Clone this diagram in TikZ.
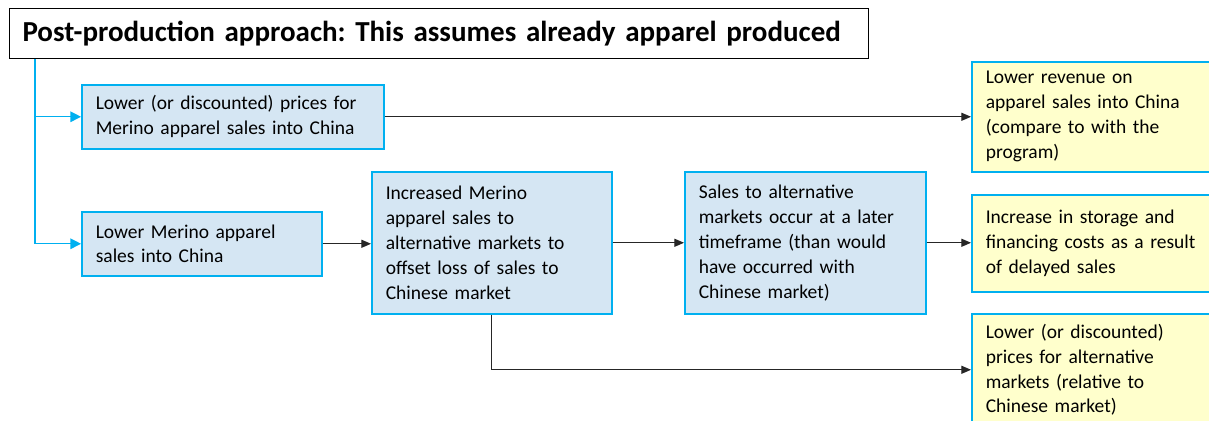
\documentclass[tikz,border=0pt]{standalone}
\usepackage{fontspec}
\setmainfont{Carlito}
\usepackage{tikz}
\usetikzlibrary{arrows.meta}

\definecolor{boxblue}{HTML}{D5E6F3}
\definecolor{boxyellow}{HTML}{FFFFCC}
\definecolor{edgecyan}{HTML}{00B0F0}

\tikzset{
	effect/.style={draw=edgecyan, line width=0.9pt, anchor=north west, inner xsep=0.28cm,
		align=left, font=\fontsize{11.1}{14.2}\selectfont},
	cause/.style={effect, fill=boxblue},
	result/.style={effect, fill=boxyellow},
	link/.style={-{Triangle[length=5.5pt,width=4.6pt]}, line width=0.55pt, black!85},
	feed/.style={-{Triangle[length=6pt,width=6pt]}, draw=edgecyan, line width=0.7pt}
}

\frenchspacing
\begin{document}
\begin{tikzpicture}[x=0.02cm,y=-0.02cm]
	
	\useasboundingbox (0,0) rectangle (1209,421);
	
	\node[draw, line width=0.6pt, anchor=north west, inner xsep=0.26cm, text width=16.66cm,
		minimum height=1cm, align=left, font=\fontsize{16.5}{19}\selectfont\bfseries] (title) at (9,8)
		{\mbox{Post-production approach: This assumes already apparel produced}};
	
	\node[cause, text width=5.48cm, minimum height=1.28cm] (lowprice) at (81,84)
		{Lower (or discounted) prices for\\Merino apparel sales into China};
	\node[cause, text width=4.24cm, minimum height=1.28cm] (lowsales) at (81,211)
		{Lower Merino apparel\\sales into China};
	\node[cause, text width=4.24cm, minimum height=2.84cm] (increase) at (371,171)
		{Increased Merino\\apparel sales to\\alternative markets to\\offset loss of sales to\\Chinese market};
	\node[cause, text width=4.26cm, minimum height=2.84cm] (later) at (684,171)
		{Sales to alternative\\markets occur at a later\\timeframe (than would\\have occurred with\\Chinese market)};
	
	\node[result, text width=4.64cm, minimum height=2.2cm] (revenue) at (971,61)
		{Lower revenue on\\apparel sales into China\\(compare to with the\\program)};
	\node[result, text width=4.64cm, minimum height=1.94cm] (storage) at (971,194)
		{Increase in storage and\\financing costs as a result\\of delayed sales};
	\node[result, text width=4.64cm, minimum height=2.24cm] (discount) at (971,313)
		{Lower (or discounted)\\prices for alternative\\markets (relative to\\Chinese market)};
	
	\coordinate (trunk) at ([xshift=0.52cm]title.south west);
	\draw[feed] (trunk) |- (lowprice.west);
	\draw[feed] (trunk) |- (lowsales.west);
	
	\draw[link] (lowprice.east) -- (lowprice.east -| revenue.west);
	\draw[link] (lowsales.east) -- (lowsales.east -| increase.west);
	\draw[link] (increase.east) -- (later.west);
	\draw[link] (later.east) -- (later.east -| storage.west);
	\draw[link] (increase.south) |- (discount.west);
	
\end{tikzpicture}
\end{document}
